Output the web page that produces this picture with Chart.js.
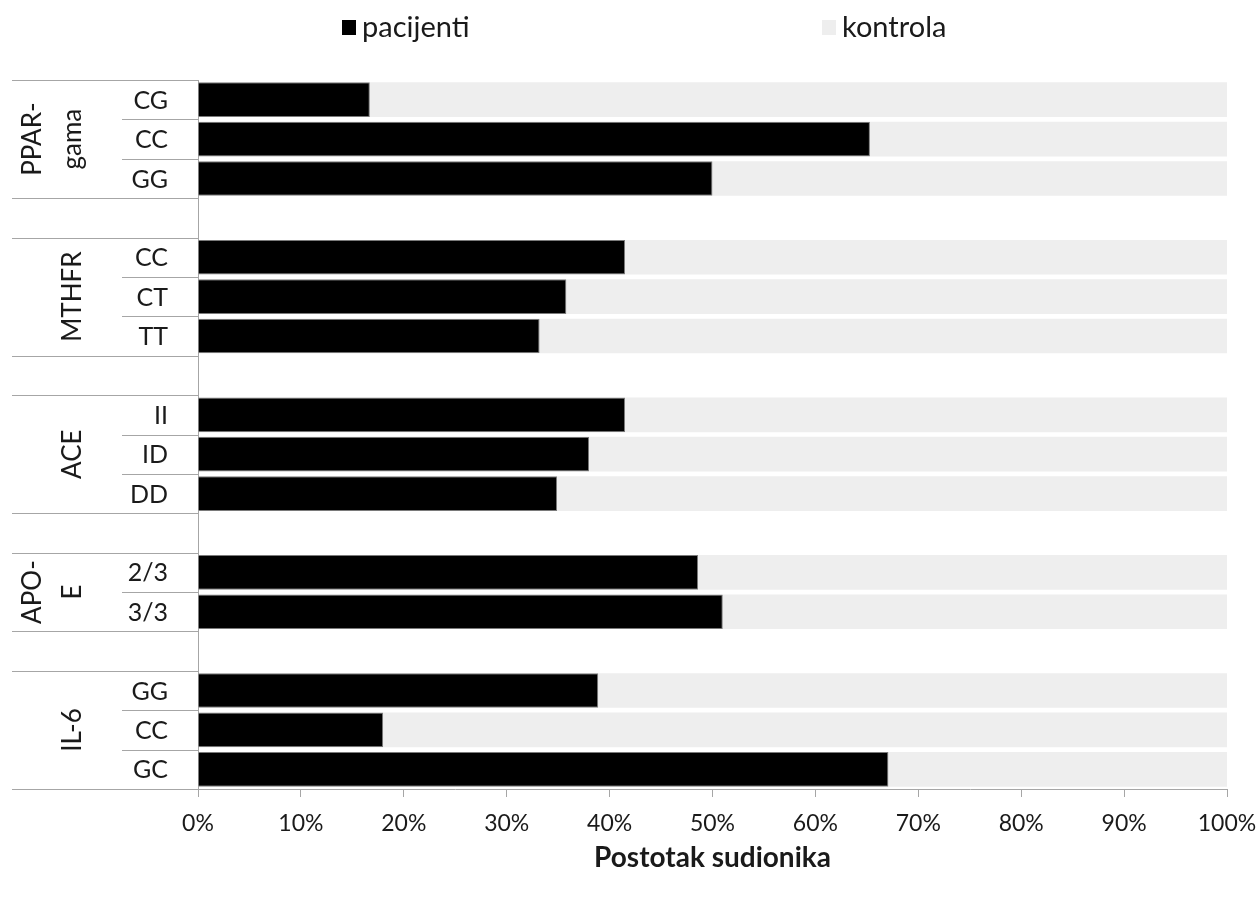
<!DOCTYPE html>
<html>
<head>
<meta charset="utf-8">
<script src="https://cdn.jsdelivr.net/npm/chart.js@4"></script>
<style>
  html, body { margin: 0; padding: 0; background: #fff; }
  #wrap { width: 1260px; height: 899px; position: relative; }
</style>
</head>
<body>
<div id="wrap"><canvas id="chart"></canvas></div>
<script>
// genes and their genotypes, top to bottom
const genes = [["PPAR-", "gama"], ["MTHFR"], ["ACE"], ["APO-", "E"], ["IL-6"]];
const genotypes = [
  ["CG", "CC", "GG"],
  ["CC", "CT", "TT"],
  ["II", "ID", "DD"],
  ["2/3", "3/3"],
  ["GG", "CC", "GC"],
];
// share of participants (%) per genotype
const pacijenti = [
  [16.7, 65.3, 50.0],
  [41.5, 35.8, 33.2],
  [41.5, 38.0, 34.9],
  [48.6, 51.0],
  [38.9, 18.0, 67.1],
];
const kontrola = [
  [83.3, 34.7, 50.0],
  [58.5, 64.2, 66.8],
  [58.5, 62.0, 65.1],
  [51.4, 49.0],
  [61.1, 82.0, 32.9],
];
const xTicks = [0, 10, 20, 30, 40, 50, 60, 70, 80, 90, 100];

const FONT = "Lato, 'Open Sans', sans-serif";
const TEXT = "#1a1a1a";
const LINE = "#a6a6a6";

// flatten groups with an empty spacer row between them
const labels = [];
const pacData = [];
const konData = [];
const groupRows = []; // [firstIndex, count] per gene
genotypes.forEach((g, gi) => {
  if (gi > 0) {
    labels.push("");
    pacData.push(null);
    konData.push(null);
  }
  groupRows.push([labels.length, g.length]);
  g.forEach((lab, i) => {
    labels.push(lab);
    pacData.push(pacijenti[gi][i]);
    konData.push(kontrola[gi][i]);
  });
});

const sideLabels = {
  id: "sideLabels",
  afterDraw(chart) {
    const { ctx, chartArea } = chart;
    const y = chart.scales.y;
    const left = chartArea.left;
    const step = y.getPixelForValue(1) - y.getPixelForValue(0);
    const rowTop = (i) => y.getPixelForValue(i) - step / 2;

    ctx.save();
    ctx.strokeStyle = LINE;
    ctx.lineWidth = 1;
    const hline = (x0, yy) => {
      const py = Math.round(yy) + 0.5;
      ctx.beginPath();
      ctx.moveTo(x0, py);
      ctx.lineTo(left, py);
      ctx.stroke();
    };

    // separators: full width between groups/spacers, short inside groups
    hline(12, chartArea.top);
    for (let i = 1; i < labels.length; i++) {
      const inGroup = labels[i] !== "" && labels[i - 1] !== "";
      hline(inGroup ? 122 : 12, rowTop(i));
    }
    hline(12, chartArea.bottom);

    // genotype labels
    ctx.fillStyle = TEXT;
    ctx.font = "25px " + FONT;
    ctx.textAlign = "right";
    ctx.textBaseline = "middle";
    labels.forEach((lab, i) => {
      if (lab) ctx.fillText(lab, 168, y.getPixelForValue(i) + 1);
    });

    // gene names, rotated
    ctx.font = "26px " + FONT;
    ctx.textAlign = "center";
    groupRows.forEach(([start, count], gi) => {
      const cy = (rowTop(start) + rowTop(start + count)) / 2;
      const lines = genes[gi];
      lines.forEach((txt, li) => {
        const cx = 73 - (lines.length - 1 - li) * 40;
        ctx.save();
        ctx.translate(cx, cy);
        ctx.rotate(-Math.PI / 2);
        ctx.fillText(txt, 0, 0);
        ctx.restore();
      });
    });

    // legend
    const items = chart.data.datasets;
    const legendX = [342, 822];
    ctx.font = "29px " + FONT;
    ctx.textAlign = "left";
    items.forEach((ds, i) => {
      ctx.fillStyle = ds.backgroundColor;
      ctx.fillRect(legendX[i], 20, 14, 15);
      ctx.fillStyle = TEXT;
      ctx.fillText(ds.label, legendX[i] + 20, 28);
    });
    ctx.restore();
  },
};

new Chart(document.getElementById("chart"), {
  type: "bar",
  data: {
    labels: labels,
    datasets: [
      {
        label: "pacijenti",
        data: pacData,
        backgroundColor: "#000000",
        borderColor: "#7a7a7a",
        borderWidth: 1,
      },
      {
        label: "kontrola",
        data: konData,
        backgroundColor: "#eeeeee",
        borderWidth: 0,
      },
    ],
  },
  options: {
    indexAxis: "y",
    responsive: true,
    maintainAspectRatio: false,
    animation: false,
    categoryPercentage: 1,
    barPercentage: 0.88,
    layout: { padding: { top: 80, right: 33, left: 12, bottom: 0 } },
    plugins: {
      legend: { display: false },
      tooltip: { enabled: false },
    },
    scales: {
      x: {
        stacked: true,
        min: 0,
        max: 100,
        afterBuildTicks(scale) {
          scale.ticks = xTicks.map((v) => ({ value: v }));
        },
        afterFit(scale) {
          scale.height = 110;
          scale.paddingLeft = 0;
          scale.paddingRight = 0;
        },
        grid: {
          drawOnChartArea: false,
          drawTicks: true,
          tickLength: 8,
          color: LINE,
        },
        border: { color: LINE },
        ticks: {
          padding: 13,
          color: TEXT,
          font: { family: FONT, size: 23 },
          callback: (v) => v + "%",
        },
        title: {
          display: true,
          text: "Postotak sudionika",
          color: TEXT,
          font: { family: FONT, size: 28, weight: "bold" },
          padding: { top: 4, bottom: 24 },
        },
      },
      y: {
        stacked: true,
        afterFit(scale) {
          scale.width = 186;
        },
        grid: { display: false },
        border: { display: true, color: LINE },
        ticks: { display: false },
      },
    },
  },
  plugins: [sideLabels],
});
</script>
</body>
</html>
